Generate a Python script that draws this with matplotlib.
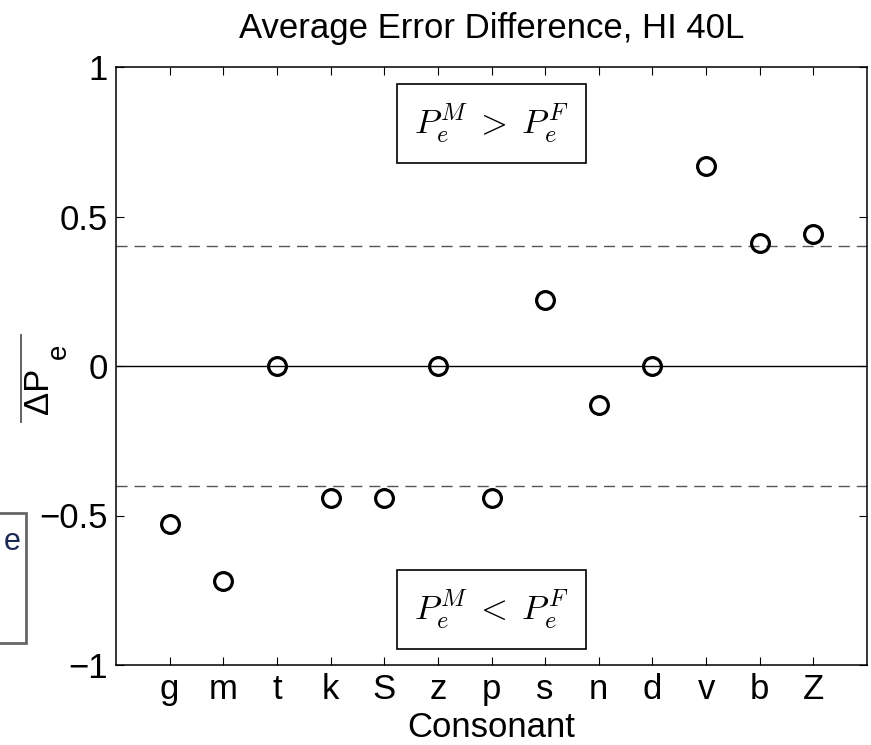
import matplotlib
matplotlib.use("Agg")
import matplotlib.pyplot as plt
from matplotlib.patches import Rectangle
from matplotlib.lines import Line2D

plt.rcParams['font.family'] = ['Liberation Sans', 'DejaVu Sans']
plt.rcParams['mathtext.fontset'] = 'cm'

consonants = ['g', 'm', 't', 'k', 'S', 'z', 'p', 's', 'n', 'd', 'v', 'b', 'Z']
delta_pe = [-0.53, -0.72, 0.0, -0.44, -0.44, 0.0, -0.44, 0.22, -0.13, 0.0, 0.67, 0.41, 0.44]
threshold = 0.4
yticks = [-1, -0.5, 0, 0.5, 1]
ytick_labels = ['\u22121', '\u22120.5', '0', '0.5', '1']

W, H = 871, 745
fig = plt.figure(figsize=(W / 100, H / 100), dpi=100)
ax = fig.add_axes([116 / W, 1 - 665 / H, (867 - 116) / W, (665 - 67) / H])

x = list(range(1, len(consonants) + 1))
ax.axhline(0, color='black', lw=1.0, zorder=1)
ax.axhline(threshold, color='#555555', lw=1.0, ls=(0, (8, 5)), zorder=1)
ax.axhline(-threshold, color='#555555', lw=1.0, ls=(0, (8, 5)), zorder=1)
ax.plot(x, delta_pe, 'o', mfc='none', mec='black', ms=12.8, mew=2.3, zorder=3)

ax.set_xlim(0, len(consonants) + 1)
ax.set_ylim(-1, 1)
ax.set_xticks(x)
ax.set_xticklabels(consonants, fontsize=25)
ax.set_yticks(yticks)
ax.set_yticklabels(ytick_labels, fontsize=25)
ax.tick_params(direction='in', length=5.5, width=0.8, top=True, right=True, pad=6)
for s in ax.spines.values():
    s.set_linewidth(1.1)

ax.set_title('Average Error Difference, HI 40L', fontsize=25, y=1.048, pad=0)
ax.set_xlabel('Consonant', fontsize=25)
ax.xaxis.label.set_va('baseline')
ax.xaxis.set_label_coords(0.5, (665 - 737) / 598)

# y label: overline(ΔP_e), as in the reference
fig.text(48 / W, 1 - 414 / H, '\u0394P', fontsize=25, rotation=90,
         rotation_mode='anchor', ha='left', va='baseline')
fig.text(66 / W, 1 - 359 / H, 'e', fontsize=20, rotation=90,
         rotation_mode='anchor', ha='left', va='baseline')
fig.add_artist(Line2D([21 / W, 21 / W], [1 - 422 / H, 1 - 335 / H],
                      transform=fig.transFigure, color='#555555', lw=1.3))

bbox = dict(boxstyle='square,pad=0.5', fc='white', ec='black', lw=1.2)
ax.text(7, 0.81, r'$P_e^M\;>\;P_e^F$', fontsize=25, ha='center', va='center', bbox=bbox)
ax.text(7, -0.815, r'$P_e^M\;<\;P_e^F$', fontsize=25, ha='center', va='center', bbox=bbox)

# partial legend box from the neighbouring panel at the left edge
fig.patches.append(Rectangle((-0.02, 1 - 643 / H), 0.02 + 26 / W, 130 / H,
                             transform=fig.transFigure, fc='white', ec='#666666', lw=2.0))
fig.text(12 / W, 1 - 542 / H, 'e', fontsize=22, color='#1a2a55', ha='center', va='center')

fig.savefig('out.png', dpi=100)
